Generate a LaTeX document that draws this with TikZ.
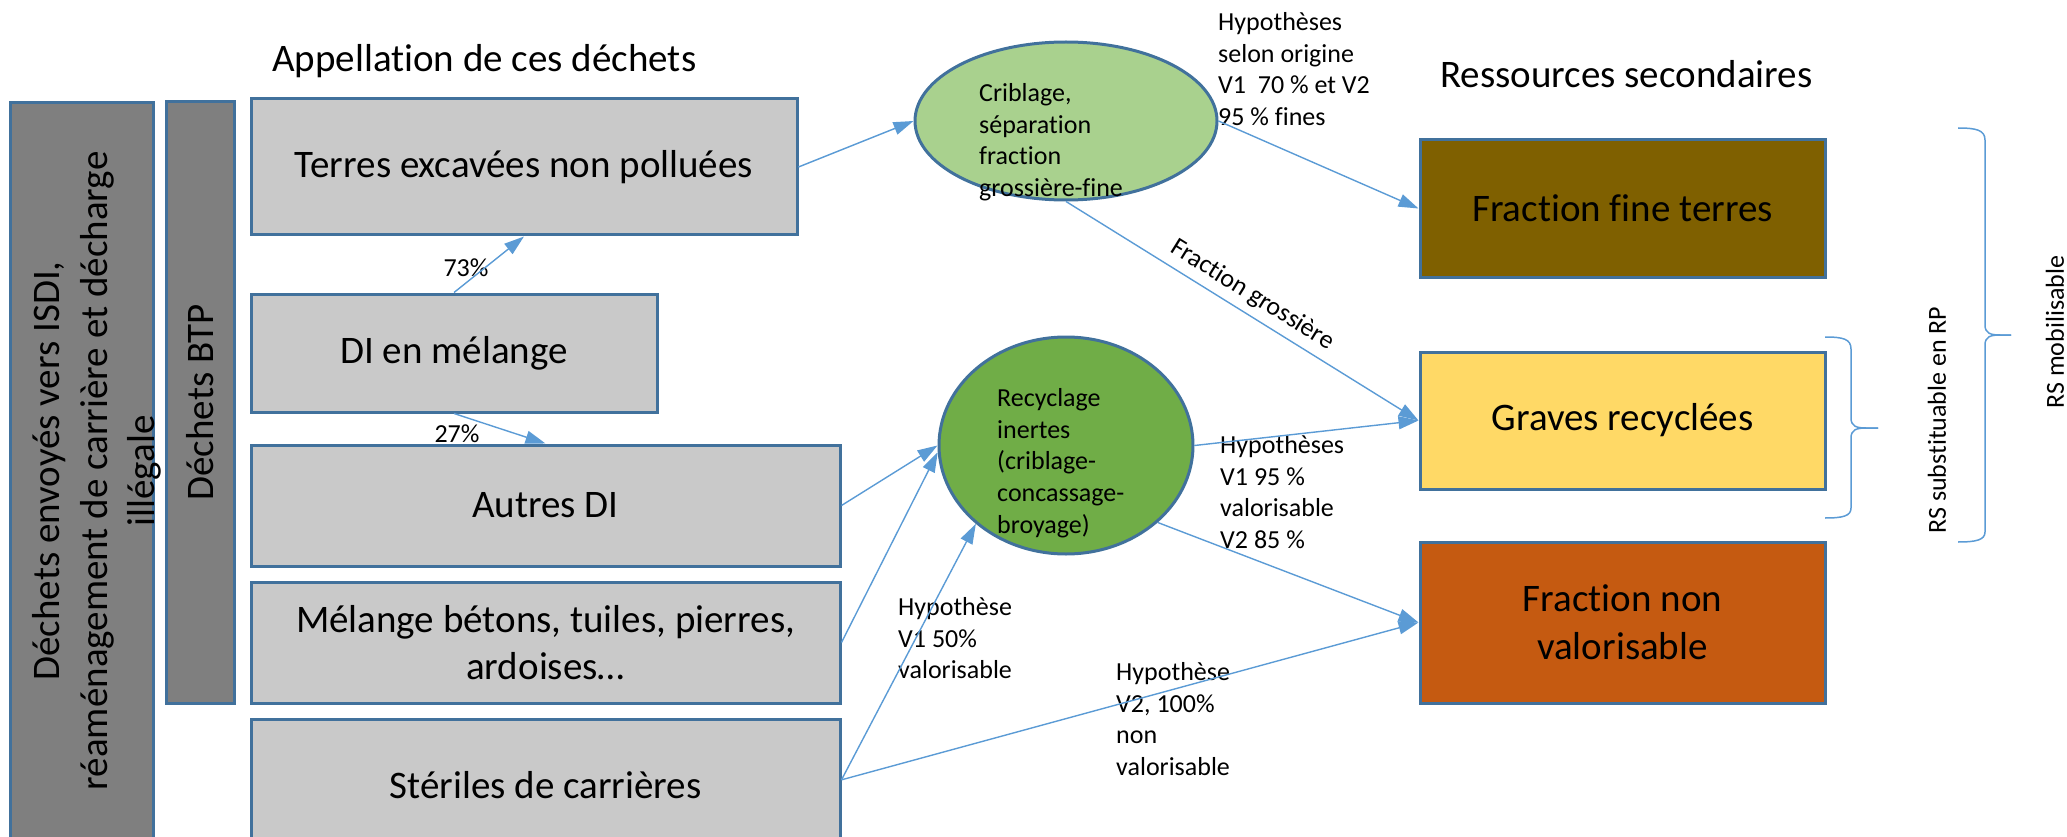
\documentclass[tikz,border=0pt]{standalone}
\usepackage{fontspec}
\setmainfont{Carlito}[Ligatures={NoCommon,NoContextual}]
\usetikzlibrary{arrows.meta,shapes.geometric}
\definecolor{bord}{HTML}{41719C}
\definecolor{lgray}{HTML}{C9C9C9}
\definecolor{dgray}{HTML}{7F7F7F}
\definecolor{flowc}{HTML}{5B9BD5}
\definecolor{lgreen}{HTML}{A9D18E}
\definecolor{dgreen}{HTML}{70AD47}
\definecolor{cfine}{HTML}{7F6000}
\definecolor{cgrav}{HTML}{FFD966}
\definecolor{cnon}{HTML}{C55A11}
\newcommand\fbig{\fontsize{39}{47.6}\selectfont}
\newcommand\fsmall{\fontsize{26}{31.7}\selectfont}
\begin{document}
\begin{tikzpicture}[x=1pt,y=-1pt,
  box/.style={draw=bord, line width=3pt, inner sep=0pt, font=\fbig, align=center},
  gbox/.style={box, fill=lgray},
  dbox/.style={box, fill=dgray},
  ell/.style={ellipse, draw=bord, line width=3pt, inner sep=0pt},
  flow/.style={draw=flowc, line width=1.4pt, -{Triangle[length=20pt,width=13pt]}},
  lbl/.style={font=\fsmall, inner sep=0pt, align=left},
  brc/.style={draw=flowc, line width=1.5pt}]
\useasboundingbox (0,0) rectangle (2067,837);
\clip (0,0) rectangle (2067,837);

% left vertical boxes
\node[dbox, minimum width=143pt, minimum height=737pt] (L) at (81.5,471.5) {};
\node[font=\fbig, align=center, rotate=90, inner sep=0pt] (Ltxt) at (97,471)
  {Déchets envoyés vers ISDI,\\ réaménagement de carrière et décharge\\ illégale};
\node[dbox, rotate=90, minimum width=601pt, minimum height=68pt] (BTP) at (200,402.5) {Déchets BTP};

% titles
\node[font=\fbig, anchor=base west, inner sep=0pt] (T1) at (272,72) {Appellation de ces déchets};
\node[font=\fbig, anchor=base west, inner sep=0pt] (T2) at (1440,88) {Ressources secondaires};

% grey boxes
\node[gbox, minimum width=546pt, minimum height=136pt] (Ter) at (524,167) {Terres excavées non polluées};
\node[gbox, minimum width=406pt, minimum height=118pt] (DI) at (454,353) {DI en mélange};
\node[gbox, minimum width=589pt, minimum height=121pt] (Aut) at (545.5,505.5) {Autres DI};
\node[gbox, minimum width=589pt, minimum height=121pt] (Mel) at (545.5,642.5) {Mélange bétons, tuiles, pierres,\\ ardoises…};
\node[gbox, minimum width=589pt, minimum height=132pt] (Ste) at (545.5,785) {Stériles de carrières};

% right boxes
\node[box, fill=cfine, minimum width=405pt, minimum height=137pt] (Fin) at (1622.5,208.5) {Fraction fine terres};
\node[box, fill=cgrav, minimum width=405pt, minimum height=137pt] (Gra) at (1622.5,420.5) {Graves recyclées};
\node[box, fill=cnon, minimum width=405pt, minimum height=161pt] (Non) at (1622.5,622.5) {Fraction non\\ valorisable};

% process ellipses
\node[ell, fill=lgreen, minimum width=302pt, minimum height=158pt] (Cri) at (1066,121) {};
\node[ell, fill=dgreen, minimum width=254pt, minimum height=217pt] (Rec) at (1066,445.5) {};
\node[lbl, anchor=north west] (CriT) at (979,79) {\strut Criblage,\\ séparation\\ fraction\\ grossière-fine};
\node[lbl, anchor=north west] (RecT) at (997,384) {\strut Recyclage\\ inertes\\ (criblage-\\ concassage-\\ broyage)};

% labels
\node[lbl, anchor=north west] (H1) at (1218,8) {\strut Hypothèses\\ selon origine\\ V1\ \ 70 \% et V2\\ 95 \% fines};
\node[lbl, anchor=north west] (H2) at (1220,431) {\strut Hypothèses\\ V1 95 \%\\ valorisable\\ V2 85 \%};
\node[lbl, anchor=north west] (H3) at (898,593) {\strut Hypothèse\\ V1 50\%\\ valorisable};
\node[lbl, anchor=north west] (H4) at (1116,658) {\strut Hypothèse\\ V2, 100\%\\ non\\ valorisable};
\node[lbl] (P73) at (466,268) {73\%};
\node[lbl] (P27) at (457,434) {27\%};

% connectors
\draw[flow] (DI.north) -- (Ter.south);
\draw[flow] (DI.south) -- (Aut.north);
\draw[flow] (Ter.east) -- (Cri.west);
\draw[flow] (Cri.east) -- (Fin.west);
\draw[flow] (Cri.south) -- node[lbl, sloped, above=7pt, pos=0.5] (FG) {Fraction grossière} (Gra.west);
\draw[flow] (Aut.east) -- (Rec.west);
\draw[flow] (Mel.east) -- (Rec.183);
\draw[flow] (Ste.1.4) -- (Rec.221);
\draw[flow] (Ste.1.4) -- (Non.west);
\draw[flow] (Rec.east) -- (Gra.west);
\draw[flow] (Rec.-40) -- (Non.west);

% braces
\draw[brc] (1825,337) .. controls (1843,337) and (1851,339) .. (1851,349) -- (1851,418)
  .. controls (1851,426) and (1856,428) .. (1866,428) -- (1878,428);
\draw[brc] (1878,428) -- (1866,428) .. controls (1856,428) and (1851,430) .. (1851,438)
  -- (1851,508) .. controls (1851,516) and (1843,518) .. (1825,518);
\draw[brc] (1958,128) .. controls (1976,128) and (1985,130) .. (1985,140) -- (1985,325)
  .. controls (1985,333) and (1990,335) .. (2000,335) -- (2011,335);
\draw[brc] (2011,335) -- (2000,335) .. controls (1990,335) and (1985,337) .. (1985,345)
  -- (1985,532) .. controls (1985,540) and (1976,542) .. (1958,542);
\node[lbl, rotate=90] (RS1) at (1937,420) {RS substituable en RP};
\node[lbl, rotate=90] (RS2) at (2055,332) {RS mobilisable};
\end{tikzpicture}
\end{document}
